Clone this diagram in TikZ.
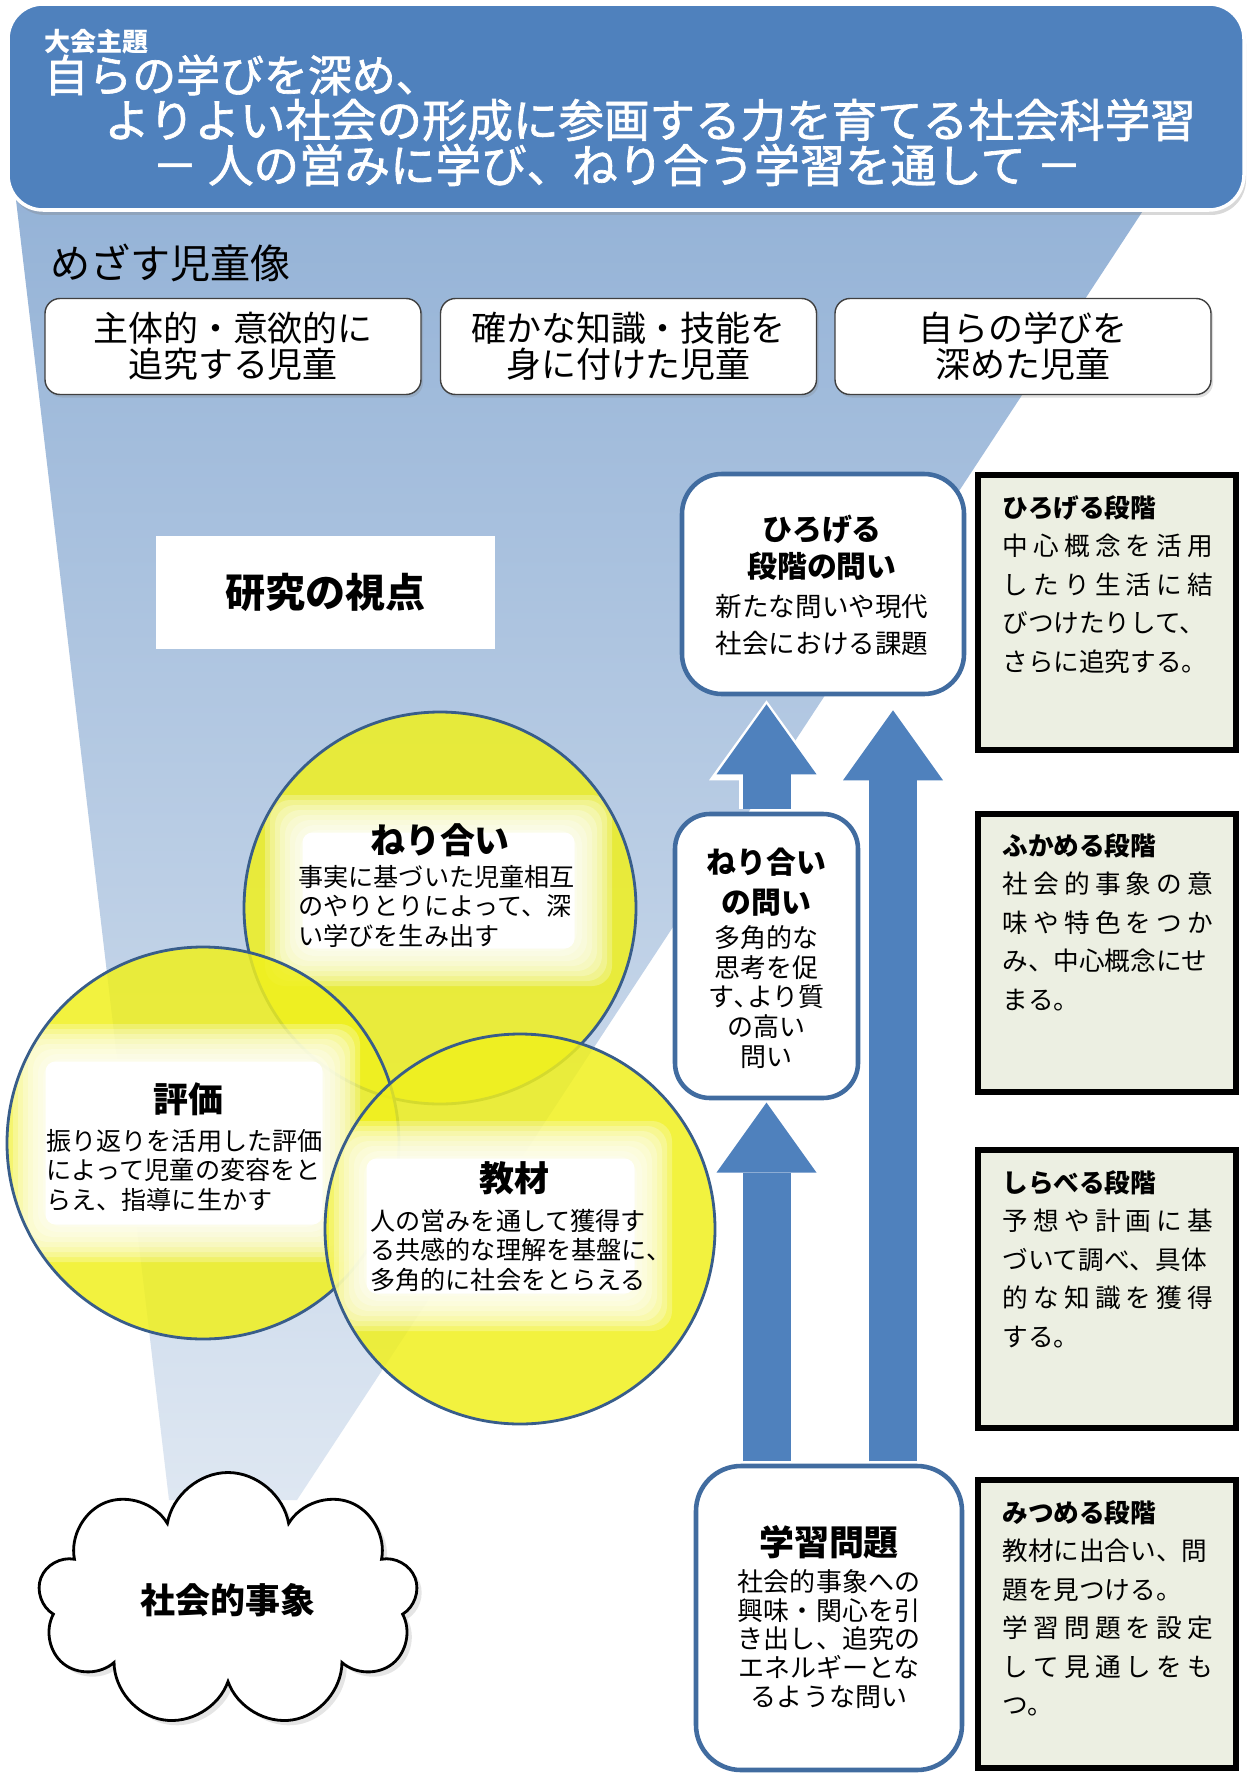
\documentclass[tikz,border=0pt]{standalone}
\usepackage{fontspec}
\setmainfont{Noto Sans CJK JP}
\usetikzlibrary{calc}
\usetikzlibrary{arrows.meta}
\usetikzlibrary{shapes.symbols}
\usetikzlibrary{shadows}
\definecolor{headblue}{RGB}{79,129,189}
\definecolor{arrowblue}{RGB}{79,129,189}
\definecolor{funneltop}{RGB}{149,179,215}
\definecolor{funnelbot}{RGB}{222,231,242}
\definecolor{ringblue}{RGB}{56,93,138}
\definecolor{boxblue}{RGB}{65,108,160}
\definecolor{circyellow}{RGB}{240,240,30}
\definecolor{stagefill}{RGB}{236,239,226}
% one line of a stage box, spread over the whole width
\newcommand*\stageline[1]{\makebox[4.22cm][s]{\stageloop#1\relax}}
\def\stageloop#1#2{#1\ifx\relax#2\else\hfil\expandafter\stageloop\expandafter#2\fi}
\tikzset{
  headtext/.style={anchor=west, inner sep=0, text=white},
  goalbox/.style={draw=black!75, line width=0.8pt, fill=white, rounded corners=0.3cm,
    minimum width=7.52cm, minimum height=1.92cm, align=center,
    font=\fontsize{19.9}{20.5}\selectfont,
    drop shadow={opacity=0.25, shadow xshift=0.04cm, shadow yshift=-0.06cm}},
  ringfill/.style={fill=circyellow, fill opacity=0.85},
  ring/.style={draw=ringblue, line width=1.6pt},
  glow/.style={white, opacity=0.25, rounded corners=0.4cm},
  circtitle/.style={font=\bfseries\fontsize{19.9}{21}\selectfont},
  circbody/.style={anchor=west, align=left, inner sep=0, font=\fontsize{14.3}{16.8}\selectfont},
  askbox/.style={draw=boxblue, line width=2.6pt, fill=white, rounded corners=0.8cm},
  asktitle/.style={align=center, font=\bfseries\fontsize{17}{21}\selectfont},
  askbody/.style={align=center, font=\fontsize{15.1}{21.6}\selectfont},
  stagebox/.style={draw=black, line width=3pt, fill=stagefill, minimum width=5.16cm},
  stagetext/.style={anchor=north west, inner sep=0, align=left, font=\fontsize{14.6}{21.9}\selectfont},
  bigarrow/.style={draw=arrowblue, line width=0.96cm,
    -{Triangle[length=1.4cm,width=2cm,line width=0pt]}}
}

\begin{document}
\begin{tikzpicture}
\useasboundingbox (0,0) rectangle (25,-35.48);
\fill[white] (0,0) rectangle (25,-35.48);
% funnel
\shade[top color=funneltop, bottom color=funnelbot] (0.32,-4.0) -- (23.0,-4.0) -- (5.94,-30) -- (3.38,-30) -- cycle;
% banner
\draw[fill=headblue, draw=white, line width=2pt, rounded corners=0.7cm,
  drop shadow={opacity=0.3, shadow xshift=0.04cm, shadow yshift=-0.1cm}] (0.16,-0.08) rectangle (24.88,-4.2);
\node[headtext, font=\bfseries\fontsize{14.8}{16}\selectfont] (theme) at (0.88,-0.84) {大会主題};
\node[headtext, font=\fontsize{25}{27}\selectfont\addfontfeatures{FakeBold=1.5}] (title1) at (0.88,-1.5) {自らの学びを深め、};
\node[headtext, font=\fontsize{25.9}{27}\selectfont\addfontfeatures{FakeBold=1.5}] (title2) at (2.08,-2.4) {よりよい社会の形成に参画する力を育てる社会科学習};
\node[headtext, font=\fontsize{25.9}{27}\selectfont\addfontfeatures{FakeBold=1.5}] (title3) at (3.04,-3.3) {－ 人の営みに学び、ねり合う学習を通して －};
% children
\node[anchor=west, inner sep=0, font=\fontsize{22.8}{24}\selectfont] (mezasu) at (1.0,-5.26) {めざす児童像};
\node[goalbox] (goal1) at (4.66,-6.93) {主体的・意欲的に\\追究する児童};
\node[goalbox] (goal2) at (12.57,-6.93) {確かな知識・技能を\\身に付けた児童};
\node[goalbox] (goal3) at (20.46,-6.93) {自らの学びを\\深めた児童};
% viewpoint
\node[fill=white, minimum width=6.78cm, minimum height=2.26cm, font=\bfseries\fontsize{22.8}{24}\selectfont] (viewpoint) at (6.51,-11.85) {研究の視点};
% circle: neriai
\fill[ringfill] (8.8,-18.16) circle (3.92);
\begin{scope}
\clip (8.8,-18.16) circle (3.92);
\foreach \i in {0,...,7}
  \fill[glow] (5.3+0.1*\i,-15.9-0.1*\i) rectangle (12.24-0.1*\i,-19.72+0.1*\i);
\fill[white, rounded corners=0.2cm] (6.05,-16.65) rectangle (11.49,-18.97);
\end{scope}
\draw[ring] (8.8,-18.16) circle (3.92);
\node[circtitle] (neri) at (8.8,-16.8) {ねり合い};
\node[circbody] (neritext) at (5.96,-18.12) {事実に基づいた児童相互\\のやりとりによって、深\\い学びを生み出す};
% circle: hyoka
\fill[ringfill] (4.06,-22.86) circle (3.92);
\begin{scope}
\clip (4.06,-22.86) circle (3.92);
\foreach \i in {0,...,7}
  \fill[glow] (0.16+0.1*\i,-20.48-0.1*\i) rectangle (7.2-0.1*\i,-25.24+0.1*\i);
\fill[white, rounded corners=0.2cm] (0.91,-21.23) rectangle (6.45,-24.49);
\end{scope}
\draw[ring] (4.06,-22.86) circle (3.92);
\node[circtitle] (hyoka) at (3.76,-21.98) {評価};
\node[circbody] (hyokatext) at (0.92,-23.4) {振り返りを活用した評価\\によって児童の変容をと\\らえ、指導に生かす};
% circle: kyozai
\fill[ringfill] (10.4,-24.58) circle (3.9);
\begin{scope}
\clip (10.4,-24.58) circle (3.9);
\foreach \i in {0,...,7}
  \fill[glow] (6.58+0.1*\i,-22.42-0.1*\i) rectangle (13.44-0.1*\i,-26.62+0.1*\i);
\fill[white, rounded corners=0.2cm] (7.33,-23.17) rectangle (12.69,-25.87);
\end{scope}
\draw[ring] (10.4,-24.58) circle (3.9);
\node[circtitle] (kyozai) at (10.28,-23.56) {教材};
\node[circbody] (kyozaitext) at (7.4,-25.0) {人の営みを通して獲得す\\る共感的な理解を基盤に、\\多角的に社会をとらえる};
% question boxes
\node[askbox, minimum width=5.64cm, minimum height=4.4cm] (hiroq) at (16.46,-11.68) {};
\node[askbox, minimum width=3.66cm, minimum height=5.68cm, rounded corners=0.7cm] (neriq) at (15.33,-19.12) {};
\node[askbox, minimum width=5.32cm, minimum height=6.08cm, rounded corners=0.9cm] (gakuq) at (16.58,-32.36) {};
\node[asktitle] (hirot) at (16.44,-10.95) {ひろげる\\段階の問い};
\node[askbody] (hirob) at (16.44,-12.5) {新たな問いや現代\\社会における課題};
\node[asktitle, font=\bfseries\fontsize{17}{22.8}\selectfont] (nerit) at (15.33,-17.64) {ねり合い\\の問い};
\node[askbody, font=\fontsize{14.8}{17}\selectfont] (nerib) at (15.33,-19.94) {多角的な\\思考を促\\す､より質\\の高い\\問い};
\node[circtitle] (gakut) at (16.58,-30.84) {学習問題};
\node[askbody, font=\fontsize{14.8}{16.4}\selectfont] (gakub) at (16.58,-32.78) {社会的事象への\\興味・関心を引\\き出し、追究の\\エネルギーとな\\るような問い};
% arrows
\coordinate (rightx) at (17.86,0);
\draw[bigarrow, draw=white, line width=1.1cm, -{Triangle[length=1.6cm,width=2.3cm,line width=0pt]}, shorten <=1.3pt, shorten >=0.08cm] (neriq.north) -- (neriq.north |- hiroq.south);
\draw[bigarrow, shorten <=1.3pt, shorten >=0.16cm] (neriq.north) -- (neriq.north |- hiroq.south);
\draw[bigarrow, shorten <=1.3pt, shorten >=1.3pt] (neriq.south |- gakuq.north) -- (neriq.south);
\draw[bigarrow, shorten <=1.3pt, shorten >=0.28cm] (gakuq.north -| rightx) -- (hiroq.south -| rightx);
% stages
\node[stagebox, minimum height=5.5cm] (hirostage) at (22.14,-12.25) {};
\node[stagebox, minimum height=5.56cm] (fukastage) at (22.14,-19.06) {};
\node[stagebox, minimum height=5.56cm] (shirastage) at (22.14,-25.78) {};
\node[stagebox, minimum height=5.76cm] (mitsustage) at (22.14,-32.48) {};
\node[stagetext] (hirotext) at (20.04,-9.9) {\textbf{ひろげる段階}\\\stageline{中心概念を活用}\\\stageline{したり生活に結}\\びつけたりして、\\さらに追究する。};
\node[stagetext] (fukatext) at (20.04,-16.66) {\textbf{ふかめる段階}\\\stageline{社会的事象の意}\\\stageline{味や特色をつか}\\み、中心概念にせ\\まる。};
\node[stagetext] (shiratext) at (20.04,-23.4) {\textbf{しらべる段階}\\\stageline{予想や計画に基}\\づいて調べ、具体\\\stageline{的な知識を獲得}\\する。};
\node[stagetext] (mitsutext) at (20.04,-30.0) {\textbf{みつめる段階}\\教材に出合い、問\\題を見つける。\\\stageline{学習問題を設定}\\\stageline{して見通しをも}\\つ。};
% social phenomena
\node[cloud, cloud puffs=9, cloud puff arc=160, cloud ignores aspect, draw=black, line width=1.6pt, fill=white,
  minimum width=7.6cm, minimum height=5.1cm, drop shadow={opacity=0.2},
  font=\bfseries\fontsize{19.9}{21}\selectfont] (social) at (4.56,-32.0) {社会的事象};
\end{tikzpicture}
\end{document}
